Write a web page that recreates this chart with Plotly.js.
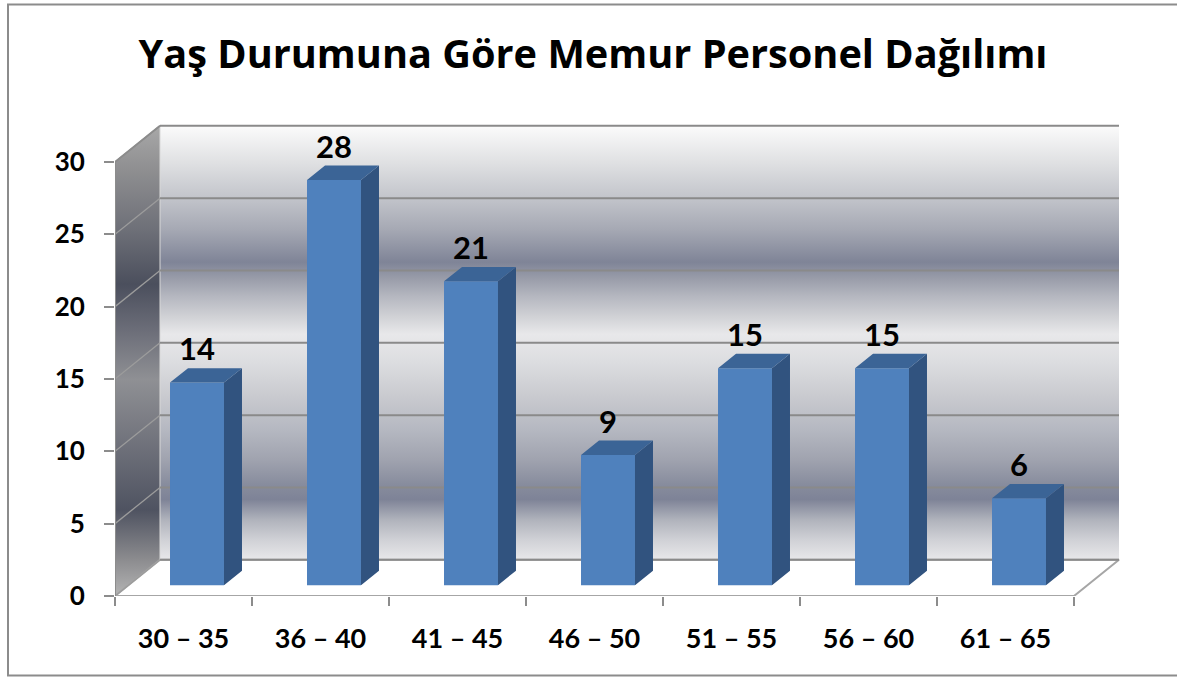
<!DOCTYPE html>
<html>
<head>
<meta charset="utf-8">
<script src="https://cdn.plot.ly/plotly-3.0.1.min.js"></script>
<style>
  html, body { margin: 0; padding: 0; background: #ffffff; }
  #chart { width: 1177px; height: 677px; }
</style>
</head>
<body>
<div id="chart"></div>
<script>
// ---- data ----
const chartTitle = 'Yaş Durumuna Göre Memur Personel Dağılımı';
const categories = ['30 – 35', '36 – 40', '41 – 45', '46 – 50', '51 – 55', '56 – 60', '61 – 65'];
const values = [14, 28, 21, 9, 15, 15, 6];
const yTickValues = [0, 5, 10, 15, 20, 25, 30];

// ---- pseudo-3D geometry (in axis units) ----
const W = 1177, H = 677;
const M = { l: 115, r: 52, t: 120, b: 81 };
const pxPerCat = 137;
const pxPerUnit = 434 / 30;
const plotW = W - M.l - M.r, plotH = H - M.t - M.b;
const xr = [-0.5, -0.5 + plotW / pxPerCat];
const yr = [0, plotH / pxPerUnit];
const DX = 45 / pxPerCat;   // depth offset along x
const DY = 2.5;             // depth offset along y
const yMax = yTickValues[yTickValues.length - 1];
const nCat = categories.length;
const x0 = -0.5, x1 = nCat - 0.5;
const barW = 0.394;
const fD = 0.3, bD = 0.7;   // front / back depth fraction of bars

const font = 'Lato, "Open Sans", "DejaVu Sans", sans-serif';
const titleFont = '"Open Sans", Lato, "DejaVu Sans", sans-serif';
const gridCol = '#8a8a8a';

const traces = [];

// left side wall
traces.push({
  type: 'scatter', mode: 'lines', xaxis: 'x', yaxis: 'y',
  x: [x0, x0 + DX, x0 + DX, x0, x0], y: [0, DY, yMax + DY, yMax, 0],
  fill: 'toself', line: { width: 0 }, hoverinfo: 'skip', showlegend: false,
  fillgradient: {
    type: 'vertical', start: 0, stop: yMax + DY,
    colorscale: [
      [0, '#b4b4b4'], [0.077, '#8c8c8f'], [0.183, '#4f5361'], [0.333, '#72747d'],
      [0.46, '#8f9094'], [0.567, '#6b6d78'], [0.663, '#4b4f5d'], [0.78, '#6e7078'],
      [0.908, '#8f8f91'], [1, '#a8a8a8']
    ]
  }
});
// back wall
traces.push({
  type: 'scatter', mode: 'lines', xaxis: 'x', yaxis: 'y',
  x: [x0 + DX, x1 + DX, x1 + DX, x0 + DX, x0 + DX], y: [DY, DY, yMax + DY, yMax + DY, DY],
  fill: 'toself', line: { width: 0 }, hoverinfo: 'skip', showlegend: false,
  fillgradient: {
    type: 'vertical', start: DY, stop: yMax + DY,
    colorscale: [
      [0, '#e8e8ea'], [0.046, '#d0d1d6'], [0.092, '#b0b3bc'], [0.139, '#7e8397'],
      [0.173, '#878c9d'], [0.231, '#a0a3af'], [0.3, '#b5b8c1'], [0.376, '#c9cacf'],
      [0.455, '#dcdde0'], [0.52, '#e8e8ea'], [0.561, '#d0d1d5'], [0.607, '#b5b7c0'],
      [0.647, '#9a9daa'], [0.686, '#7f8497'], [0.762, '#a6a9b4'], [0.838, '#c4c6cc'],
      [0.917, '#e0e1e3'], [1, '#fbfbfb']
    ]
  }
});
// floor
traces.push({
  type: 'scatter', mode: 'lines', xaxis: 'x', yaxis: 'y',
  x: [x0, x1, x1 + DX, x0 + DX, x0], y: [0, 0, DY, DY, 0],
  fill: 'toself', fillcolor: '#ffffff', line: { color: '#a6a6a6', width: 2 },
  hoverinfo: 'skip', showlegend: false
});
// back wall left edge (light)
traces.push({
  type: 'scatter', mode: 'lines', xaxis: 'x', yaxis: 'y',
  x: [x0 + DX, x0 + DX], y: [DY, yMax + DY],
  line: { color: '#d8d8d8', width: 1 }, hoverinfo: 'skip', showlegend: false
});
// gridlines on back wall and left wall
const gbx = [], gby = [], glx = [], gly = [];
yTickValues.forEach(v => {
  gbx.push(x0 + DX, x1 + DX, null); gby.push(v + DY, v + DY, null);
  glx.push(x0, x0 + DX, null); gly.push(v, v + DY, null);
});
traces.push({
  type: 'scatter', mode: 'lines', xaxis: 'x', yaxis: 'y', x: gbx, y: gby,
  line: { color: gridCol, width: 2 }, hoverinfo: 'skip', showlegend: false
});
traces.push({
  type: 'scatter', mode: 'lines', xaxis: 'x', yaxis: 'y', x: glx, y: gly,
  line: { color: '#9c9c9c', width: 1.3 }, hoverinfo: 'skip', showlegend: false
});
// left wall outline (vertical value axis + top edge)
traces.push({
  type: 'scatter', mode: 'lines', xaxis: 'x', yaxis: 'y',
  x: [x0, x0, x0 + DX], y: [0, yMax, yMax + DY],
  line: { color: '#8c8c8c', width: 2 }, hoverinfo: 'skip', showlegend: false
});

// ---- bars (overlay subplot so they sit above the walls) ----
const idx = categories.map((c, i) => i);
traces.push({
  type: 'bar', xaxis: 'x2', yaxis: 'y2',
  x: idx.map(i => i + fD * DX), y: values, base: fD * DY, width: barW,
  marker: { color: '#4f81bd', line: { width: 0 } },
  hoverinfo: 'skip', showlegend: false
});
const sx = [], sy = [], tx = [], ty = [];
values.forEach((v, i) => {
  const L = i - barW / 2, R = i + barW / 2;
  sx.push(R + fD * DX, R + bD * DX, R + bD * DX, R + fD * DX, R + fD * DX, null);
  sy.push(fD * DY, bD * DY, v + bD * DY, v + fD * DY, fD * DY, null);
  tx.push(L + fD * DX, R + fD * DX, R + bD * DX, L + bD * DX, L + fD * DX, null);
  ty.push(v + fD * DY, v + fD * DY, v + bD * DY, v + bD * DY, v + fD * DY, null);
});
traces.push({
  type: 'scatter', mode: 'lines', xaxis: 'x2', yaxis: 'y2', x: sx, y: sy,
  fill: 'toself', fillcolor: '#31537f', line: { width: 0 },
  hoverinfo: 'skip', showlegend: false
});
traces.push({
  type: 'scatter', mode: 'lines', xaxis: 'x2', yaxis: 'y2', x: tx, y: ty,
  fill: 'toself', fillcolor: '#3b6496', line: { width: 0 },
  hoverinfo: 'skip', showlegend: false
});
// data labels
traces.push({
  type: 'scatter', mode: 'text', xaxis: 'x2', yaxis: 'y2',
  x: idx.map(i => i + fD * DX), y: values.map(v => v + bD * DY),
  text: values.map(String), textposition: 'top center', cliponaxis: false,
  textfont: { family: font, size: 31, color: '#000000', weight: 'bold' },
  hoverinfo: 'skip', showlegend: false
});

const layout = {
  width: W, height: H,
  margin: M,
  paper_bgcolor: '#ffffff', plot_bgcolor: 'rgba(0,0,0,0)',
  showlegend: false, hovermode: false,
  font: { family: font, color: '#000000' },
  title: {
    text: chartTitle, xref: 'container', yref: 'container',
    x: 593 / W, xanchor: 'center', y: 1 - 54 / H, yanchor: 'middle',
    font: { family: titleFont, size: 39.7, color: '#000000', weight: 'bold' }
  },
  xaxis: {
    range: xr, showgrid: false, zeroline: false, showline: false,
    tickmode: 'array', tickvals: idx, ticktext: categories, ticks: '',
    ticklabelstandoff: 24,
    tickfont: { family: font, size: 27, color: '#000000', weight: 'bold' },
    minor: {
      tickmode: 'array', tickvals: idx.concat([nCat]).map(i => i - 0.5),
      ticks: 'outside', ticklen: 9, tickwidth: 2, tickcolor: '#8c8c8c', showgrid: false
    },
    fixedrange: true
  },
  yaxis: {
    range: yr, showgrid: false, zeroline: false, showline: false,
    tickmode: 'array', tickvals: yTickValues, ticks: 'outside', ticklen: 10,
    tickwidth: 2, tickcolor: '#8c8c8c', ticklabelstandoff: 14,
    tickfont: { family: font, size: 26, color: '#000000', weight: 'bold' },
    fixedrange: true
  },
  xaxis2: {
    overlaying: 'x', anchor: 'y2', range: xr, visible: false, fixedrange: true
  },
  yaxis2: {
    overlaying: 'y', anchor: 'x2', range: yr, visible: false, fixedrange: true
  },
  shapes: [{
    type: 'rect', xref: 'paper', yref: 'paper', layer: 'above',
    x0: (8 - M.l) / plotW, x1: (1300 - M.l) / plotW,
    y0: (H - M.b - 675.5) / plotH, y1: (H - M.b - 4.5) / plotH,
    line: { color: '#8c8c8c', width: 2 }, fillcolor: 'rgba(0,0,0,0)'
  }]
};

Plotly.newPlot('chart', traces, layout, { staticPlot: true, displayModeBar: false });
</script>
</body>
</html>
